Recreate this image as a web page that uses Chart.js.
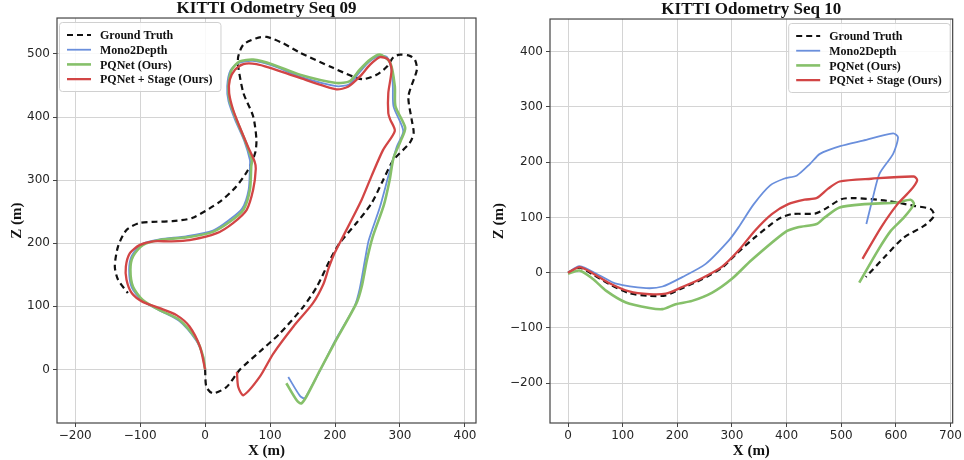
<!DOCTYPE html>
<html>
<head>
<meta charset="utf-8">
<script src="https://cdn.jsdelivr.net/npm/chart.js@4.4.0/dist/chart.umd.min.js"></script>
<style>
  body { margin: 0; background: #fff; }
  #wrap { position: relative; width: 964px; height: 460px; }
  .panel { position: absolute; top: 0; width: 482px; height: 460px; }
</style>
</head>
<body>
<div id="wrap">
  <div class="panel" style="left:0"><canvas id="seq09" width="482" height="460"></canvas></div>
  <div class="panel" style="left:482px"><canvas id="seq10" width="482" height="460"></canvas></div>
</div>
<script>
// series names (legend order)
const seriesNames = ["Ground Truth", "Mono2Depth", "PQNet (Ours)", "PQNet + Stage (Ours)"];

// ---- Seq 09 trajectories (X, Z in metres) ----
const gt09X = [0, 2, 12, 33, 53, 84, 115, 151, 172, 192, 207, 233, 256, 274, 290, 315, 321, 318, 313, 326, 323, 315, 300, 290, 280, 264, 243, 228, 197, 146, 120, 95, 79, 59, 51, 51, 59, 74, 79, 77, 66, 48, 23, -20, -50, -75, -101, -121, -134, -139, -134, -119];
const gt09Z = [0, -28, -38, -28, -1, 28, 57, 99, 131, 173, 200, 232, 263, 300, 332, 359, 375, 396, 433, 475, 491, 497, 499, 495, 480, 467, 460, 464, 478, 502, 517, 527, 525, 515, 496, 480, 438, 401, 364, 343, 316, 290, 266, 240, 235, 234, 232, 221, 195, 163, 142, 121];

const mono09X = [0, -3, -14, -40, -71, -97, -113, -117, -113, -98, -70, -29, 12, 36, 57, 67, 69, 69, 60, 46, 36, 34, 39, 52, 73, 105, 146, 202, 222, 237, 253, 268, 280, 287, 289, 290, 305, 295, 282, 269, 252, 246, 238, 230, 200, 178, 158, 153, 146, 128];
const mono09Z = [0, 20, 46, 77, 94, 109, 130, 158, 180, 198, 206, 211, 220, 236, 255, 285, 322, 332, 363, 396, 425, 449, 474, 486, 489, 481, 464, 449, 452, 470, 488, 497, 495, 475, 449, 417, 378, 353, 306, 257, 205, 173, 128, 100, 45, 0, -38, -46, -42, -12];

const pq09X = [0, -3, -13, -39, -70, -96, -111, -115, -111, -96, -70, -24, 12, 38, 59, 69, 71, 72, 61, 48, 38, 36, 41, 53, 74, 105, 146, 202, 223, 238, 254, 269, 285, 292, 293, 308, 301, 290, 284, 275, 258, 249, 241, 233, 202, 177, 156, 148, 141, 125];
const pq09Z = [0, 20, 47, 78, 94, 110, 131, 158, 179, 197, 205, 210, 218, 234, 253, 285, 322, 332, 364, 396, 425, 449, 475, 488, 491, 483, 467, 454, 457, 475, 491, 499, 486, 449, 417, 383, 362, 335, 300, 260, 210, 173, 131, 105, 47, -1, -43, -54, -49, -22];

const stage09X = [0, -8, -24, -44, -70, -96, -113, -121, -122, -116, -101, -80, -54, -24, 18, 43, 64, 74, 78, 76, 66, 53, 43, 37, 38, 46, 59, 79, 100, 146, 202, 220, 238, 254, 269, 282, 287, 282, 282, 285, 292, 274, 256, 241, 223, 207, 197, 190, 182, 166, 136, 105, 84, 59, 51, 49];
const stage09Z = [0, 36, 68, 86, 97, 107, 121, 142, 163, 184, 197, 203, 203, 205, 216, 232, 253, 285, 318, 330, 353, 385, 412, 438, 459, 475, 484, 484, 478, 462, 444, 448, 464, 483, 495, 491, 475, 438, 406, 396, 378, 348, 306, 269, 232, 200, 179, 160, 135, 105, 68, 25, -12, -41, -28, -4];

// ---- Seq 10 trajectories ----
const gt10X = [0, 21, 45, 76, 112, 149, 179, 209, 245, 282, 308, 342, 385, 409, 452, 470, 500, 524, 585, 633, 664, 670, 652, 615, 579, 545];
const gt10Z = [0, 9, -3, -21, -37, -42, -41, -28, -12, 9, 34, 64, 97, 106, 107, 115, 133, 135, 130, 121, 115, 103, 85, 64, 28, -8];

const mono10X = [0, 21, 58, 88, 143, 173, 209, 252, 294, 312, 340, 370, 395, 419, 443, 461, 498, 540, 595, 604, 595, 570, 558, 546];
const mono10Z = [0, 12, -5, -20, -28, -25, -8, 16, 58, 82, 124, 158, 170, 176, 197, 215, 229, 239, 252, 245, 215, 179, 136, 88];

const pq10X = [0, 21, 45, 70, 106, 149, 173, 197, 227, 264, 300, 336, 397, 421, 455, 470, 497, 543, 603, 627, 633, 615, 591, 567, 533];
const pq10Z = [-2, 4, -11, -33, -54, -64, -66, -57, -51, -36, -11, 23, 73, 82, 88, 100, 118, 124, 127, 132, 124, 100, 76, 40, -18];

const stage10X = [0, 21, 45, 76, 112, 149, 179, 209, 245, 282, 312, 342, 373, 403, 433, 455, 476, 497, 555, 633, 639, 627, 603, 573, 539];
const stage10Z = [0, 10, -1, -19, -34, -39, -38, -26, -10, 11, 40, 76, 106, 124, 132, 135, 152, 165, 170, 174, 167, 149, 124, 82, 25];

// tick labels
const xTicks09 = [-200, -100, 0, 100, 200, 300, 400];
const yTicks09 = [0, 100, 200, 300, 400, 500];
const xTicks10 = [0, 100, 200, 300, 400, 500, 600, 700];
const yTicks10 = [-200, -100, 0, 100, 200, 300, 400];

const colors = ["#111111", "#6a8fdc", "#86c06a", "#d24545"];
const widths = [2.2, 1.8, 2.6, 2.3];
const dashes = [[6, 4], [], [], []];

Chart.defaults.font.family = "'DejaVu Sans', sans-serif";
Chart.defaults.color = "#262626";

function toPoints(xs, zs) {
  return xs.map((x, i) => ({ x: x, y: zs[i] }));
}

function fmt(v) {
  return v < 0 ? "\u2212" + Math.abs(v) : String(v);
}

// legend drawn inside the plot, like matplotlib
const innerLegend = {
  id: "innerLegend",
  afterDatasetsDraw(chart, args, opts) {
    const { ctx, chartArea } = chart;
    ctx.save();
    ctx.font = "bold 12px 'Liberation Serif', serif";
    const textW = Math.max(...seriesNames.map(n => ctx.measureText(n).width));
    const w = 8 + 24 + 9 + textW + 8;
    const h = 69;
    const left = opts.side === "left" ? chartArea.left + 2 : chartArea.right - 3 - w;
    const top = chartArea.top + 4;
    ctx.fillStyle = "rgba(255,255,255,0.85)";
    ctx.strokeStyle = "#d0d0d0";
    ctx.lineWidth = 1;
    ctx.beginPath();
    ctx.roundRect(left + 0.5, top + 0.5, w, h, 3);
    ctx.fill();
    ctx.stroke();
    seriesNames.forEach((name, i) => {
      const y = top + 13 + i * 14.7;
      ctx.strokeStyle = colors[i];
      ctx.lineWidth = widths[i];
      ctx.setLineDash(dashes[i]);
      ctx.beginPath();
      ctx.moveTo(left + 8, y);
      ctx.lineTo(left + 32, y);
      ctx.stroke();
      ctx.setLineDash([]);
      ctx.fillStyle = "#111";
      ctx.textBaseline = "middle";
      ctx.fillText(name, left + 41, y + 1);
    });
    ctx.restore();
  }
};

// full frame around the plot area
const frame = {
  id: "frame",
  afterDraw(chart) {
    const { ctx, chartArea: a } = chart;
    ctx.save();
    ctx.strokeStyle = "#444";
    ctx.lineWidth = 1.2;
    ctx.strokeRect(a.left, a.top, a.right - a.left, a.bottom - a.top);
    ctx.restore();
  }
};

function makeChart(id, title, data, xr, yr, xTicks, yTicks, yAxisW, padRight, padTop, side) {
  const datasets = data.map((pts, i) => ({
    label: seriesNames[i],
    data: pts,
    showLine: true,
    borderColor: colors[i],
    borderWidth: widths[i],
    borderDash: dashes[i],
    pointRadius: 0,
    tension: 0.25,
    fill: false,
    order: 4 - i
  }));
  const gridOpts = { color: "#d4d4d4", lineWidth: 1, tickLength: 4, tickColor: "#444" };
  return new Chart(document.getElementById(id), {
    type: "scatter",
    data: { datasets },
    plugins: [innerLegend, frame],
    options: {
      responsive: false,
      animation: false,
      layout: { padding: { left: 0, right: padRight, top: padTop, bottom: 0 } },
      plugins: {
        legend: { display: false },
        tooltip: { enabled: false },
        title: {
          display: true,
          fullSize: false,
          text: title,
          color: "#111",
          font: { family: "'Liberation Serif', serif", size: 17, weight: "bold", lineHeight: 1.06 },
          padding: 0
        },
        innerLegend: { side: side }
      },
      scales: {
        x: {
          type: "linear",
          min: xr[0], max: xr[1],
          grid: gridOpts,
          border: { display: false },
          afterBuildTicks: s => { s.ticks = xTicks.map(v => ({ value: v })); },
          afterFit: s => { s.height = 37; },
          ticks: { font: { size: 12 }, padding: 2, callback: v => fmt(v) },
          title: {
            display: true, text: "X (m)", color: "#111",
            font: { family: "'Liberation Serif', serif", size: 15, weight: "bold", lineHeight: 1.2 },
            padding: { top: 0, bottom: 0 }
          }
        },
        y: {
          type: "linear",
          min: yr[0], max: yr[1],
          grid: gridOpts,
          border: { display: false },
          afterBuildTicks: s => { s.ticks = yTicks.map(v => ({ value: v })); },
          afterFit: s => { s.width = yAxisW; },
          ticks: { font: { size: 12 }, padding: 3, callback: v => fmt(v) },
          title: {
            display: true, text: "Z (m)", color: "#111",
            font: { family: "'Liberation Serif', serif", size: 15, weight: "bold", lineHeight: 1.2 },
            padding: { top: 8, bottom: 0 }
          }
        }
      }
    }
  });
}

makeChart("seq09", "KITTI Odometry Seq 09",
  [toPoints(gt09X, gt09Z), toPoints(mono09X, mono09Z), toPoints(pq09X, pq09Z), toPoints(stage09X, stage09Z)],
  [-228, 417], [-85, 557], xTicks09, yTicks09, 57, 6, 0, "left");

makeChart("seq10", "KITTI Odometry Seq 10",
  [toPoints(gt10X, gt10Z), toPoints(mono10X, mono10Z), toPoints(pq10X, pq10Z), toPoints(stage10X, stage10Z)],
  [-33, 704], [-272, 459], xTicks10, yTicks10, 68, 9, 1, "right");
</script>
</body>
</html>
